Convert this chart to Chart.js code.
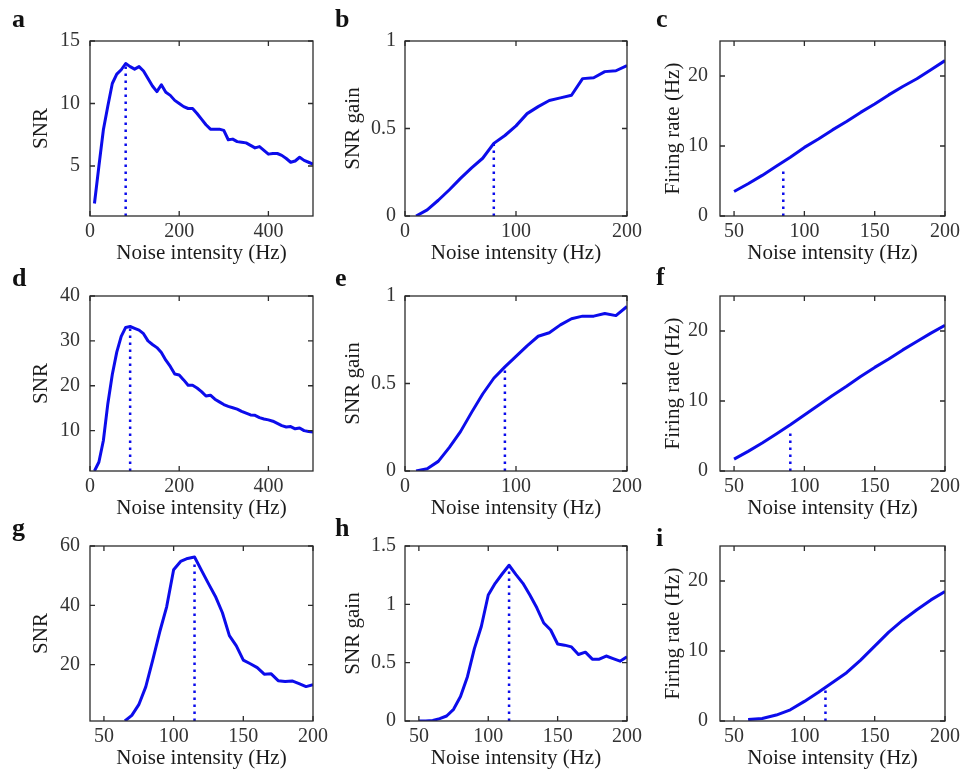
<!DOCTYPE html>
<html>
<head>
<meta charset="utf-8">
<title>SNR, SNR gain and firing rate vs noise intensity</title>
<script src="https://cdn.jsdelivr.net/npm/chart.js@4.4.1/dist/chart.umd.min.js"></script>
<style>
  html, body { margin: 0; padding: 0; background: #fff; overflow: hidden; }
  #page { position: relative; width: 960px; height: 769px; }
  canvas { position: absolute; }
  .tag { position: absolute; font: bold 26px 'Liberation Serif', 'Times New Roman', serif; line-height: 26px; color: #111; }
</style>
</head>
<body>
<div id="page"></div>
<script>
// noise intensity sample points (Hz)
const noise10to500 = [10, 20, 30, 40, 50, 60, 70, 80, 90, 100, 110, 120, 130, 140, 150, 160, 170, 180, 190, 200,
  210, 220, 230, 240, 250, 260, 270, 280, 290, 300, 310, 320, 330, 340, 350, 360, 370, 380, 390, 400,
  410, 420, 430, 440, 450, 460, 470, 480, 490, 500];
const noise10to200 = [10, 20, 30, 40, 50, 60, 70, 80, 90, 100, 110, 120, 130, 140, 150, 160, 170, 180, 190, 200];
const noise50to200 = [50, 60, 70, 80, 90, 100, 110, 120, 130, 140, 150, 160, 170, 180, 190, 200];
const noiseG = [65, 70, 75, 80, 85, 90, 95, 100, 105, 110, 115, 120, 125, 130, 135, 140, 145, 150, 155, 160,
  165, 170, 175, 180, 185, 190, 195, 200];
const noiseH = [50, 55, 60, 65, 70, 75, 80, 85, 90, 95, 100, 105, 110, 115, 120, 125, 130, 135, 140, 145, 150,
  155, 160, 165, 170, 175, 180, 185, 190, 195, 200];
const noiseI = [60, 70, 80, 90, 100, 110, 120, 130, 140, 150, 160, 170, 180, 190, 200];

// row 1
const snrA = [2.0, 5.0, 7.9, 9.8, 11.6, 12.35, 12.7, 13.2, 12.95, 12.75, 12.95, 12.6, 12.0, 11.4, 10.95, 11.5, 10.9, 10.65, 10.25, 10.0,
  9.75, 9.6, 9.6, 9.2, 8.75, 8.3, 7.95, 7.95, 7.95, 7.85, 7.1, 7.15, 6.95, 6.9, 6.85, 6.65, 6.45, 6.55, 6.25, 5.95,
  6.0, 6.0, 5.85, 5.6, 5.3, 5.4, 5.7, 5.45, 5.3, 5.15];
const gainB = [0.0, 0.035, 0.09, 0.15, 0.215, 0.275, 0.33, 0.415, 0.46, 0.515, 0.585, 0.625, 0.66, 0.675, 0.69, 0.785, 0.79, 0.825, 0.83, 0.86];
const rateC = [3.5, 4.6, 5.8, 7.1, 8.4, 9.8, 11.0, 12.3, 13.5, 14.8, 16.0, 17.3, 18.5, 19.6, 20.9, 22.2];

// row 2
const snrD = [1.0, 3.0, 7.8, 16.0, 22.5, 27.5, 31.0, 33.0, 33.2, 32.8, 32.4, 31.6, 30.0, 29.2, 28.5, 27.4, 25.7, 24.3, 22.6, 22.4,
  21.3, 20.1, 20.1, 19.5, 18.7, 17.7, 17.9, 17.0, 16.4, 15.8, 15.4, 15.1, 14.8, 14.3, 13.9, 13.5, 13.4, 12.9, 12.6, 12.4,
  12.1, 11.6, 11.1, 10.8, 10.9, 10.4, 10.6, 10.0, 9.8, 9.7];
const gainE = [0.0, 0.013, 0.055, 0.135, 0.225, 0.335, 0.44, 0.53, 0.595, 0.655, 0.715, 0.77, 0.79, 0.835, 0.87, 0.885, 0.885, 0.9, 0.888, 0.94];
const rateF = [1.7, 2.8, 4.0, 5.3, 6.6, 8.0, 9.4, 10.8, 12.1, 13.5, 14.8, 16.0, 17.3, 18.5, 19.7, 20.8];

// row 3
const snrG = [1.0, 2.9, 6.5, 12.5, 21.5, 31.0, 39.5, 52.0, 54.8, 55.8, 56.3, 51.8, 47.3, 43.0, 37.5, 29.8, 26.3, 21.5, 20.3, 19.0,
  16.8, 16.9, 14.6, 14.3, 14.5, 13.6, 12.6, 13.2];
const gainH = [0.0, 0.0, 0.005, 0.02, 0.043, 0.1, 0.21, 0.38, 0.62, 0.81, 1.08, 1.18, 1.26, 1.335, 1.255, 1.18, 1.08, 0.97, 0.84, 0.78,
  0.66, 0.65, 0.635, 0.57, 0.59, 0.53, 0.53, 0.557, 0.535, 0.513, 0.55];
const rateI = [0.2, 0.35, 0.85, 1.6, 2.8, 4.1, 5.5, 6.9, 8.7, 10.7, 12.7, 14.4, 15.9, 17.3, 18.5];

// optimal noise marker (dotted line) per panel a..i
const peakNoise = [80, 80, 85, 90, 90, 90, 115, 115, 115];
const peakLevel = [13.2, 0.425, 7.0, 32.8, 0.596, 5.9, 54.5, 1.32, 4.9];

// axis ticks
const xTicksWide = [0, 200, 400];
const xTicksShort = [0, 100, 200];
const xTicksRate = [50, 100, 150, 200];
const yTicksA = [5, 10, 15];
const yTicksD = [10, 20, 30, 40];
const yTicksG = [20, 40, 60];
const yTicksGain = [0, 0.5, 1];
const yTicksGainH = [0, 0.5, 1, 1.5];
const yTicksRate = [0, 10, 20];

const xLabel = 'Noise intensity (Hz)';
const tags = ['a', 'b', 'c', 'd', 'e', 'f', 'g', 'h', 'i'];

const panels = [
  { xs: noise10to500, ys: snrA,  x: [0, 500, xTicksWide],  y: [1, 15, yTicksA],      title: 'SNR' },
  { xs: noise10to200, ys: gainB, x: [0, 200, xTicksShort], y: [0, 1, yTicksGain],    title: 'SNR gain' },
  { xs: noise50to200, ys: rateC, x: [40, 200, xTicksRate], y: [0, 25, yTicksRate],   title: 'Firing rate (Hz)' },
  { xs: noise10to500, ys: snrD,  x: [0, 500, xTicksWide],  y: [1, 40, yTicksD],      title: 'SNR' },
  { xs: noise10to200, ys: gainE, x: [0, 200, xTicksShort], y: [0, 1, yTicksGain],    title: 'SNR gain' },
  { xs: noise50to200, ys: rateF, x: [40, 200, xTicksRate], y: [0, 25, yTicksRate],   title: 'Firing rate (Hz)' },
  { xs: noiseG,       ys: snrG,  x: [40, 200, xTicksRate], y: [1, 60, yTicksG],      title: 'SNR' },
  { xs: noiseH,       ys: gainH, x: [40, 200, xTicksRate], y: [0, 1.5, yTicksGainH], title: 'SNR gain' },
  { xs: noiseI,       ys: rateI, x: [40, 200, xTicksRate], y: [0, 25, yTicksRate],   title: 'Firing rate (Hz)' }
];

// layout of the plot boxes on the page
const boxLeft = [90, 405, 720];
const boxWidth = [223, 222, 225];
const boxTop = [41, 296, 546];
const boxHeight = 175;
const padTop = 30;
const yTitlePad = [28.4, 25.4, 30.4];
const yTickPad = [10, 9, 12];
const tagPos = [[12, 28], [335, 28], [656, 28], [12, 287], [335, 287], [656, 286], [12, 537], [335, 537], [656, 547]];

const BLUE = 'rgb(12, 12, 235)';
const serif = "'Liberation Serif', 'Times New Roman', serif";

// MATLAB-like closed box with inward ticks on all four sides
const boxTicks = {
  id: 'boxTicks',
  afterDatasetsDraw(chart) {
    const { ctx, chartArea: a, scales: { x, y } } = chart;
    ctx.save();
    ctx.strokeStyle = '#2b2b2b';
    ctx.lineWidth = 1.3;
    ctx.beginPath();
    x.ticks.forEach(t => {
      const px = x.getPixelForValue(t.value);
      ctx.moveTo(px, a.bottom); ctx.lineTo(px, a.bottom - 5);
      ctx.moveTo(px, a.top); ctx.lineTo(px, a.top + 5);
    });
    y.ticks.forEach(t => {
      const py = y.getPixelForValue(t.value);
      ctx.moveTo(a.left, py); ctx.lineTo(a.left + 5, py);
      ctx.moveTo(a.right, py); ctx.lineTo(a.right - 5, py);
    });
    ctx.stroke();
    ctx.strokeRect(a.left, a.top, a.right - a.left, a.bottom - a.top);
    ctx.restore();
  }
};

const page = document.getElementById('page');

panels.forEach((p, i) => {
  const col = i % 3, row = Math.floor(i / 3);
  const canvas = document.createElement('canvas');
  const w = boxWidth[col] + 110, h = boxHeight + padTop + 50;
  canvas.width = w;
  canvas.height = h;
  canvas.style.left = (boxLeft[col] - 90) + 'px';
  canvas.style.top = (boxTop[row] - padTop) + 'px';
  canvas.style.width = w + 'px';
  canvas.style.height = h + 'px';
  page.appendChild(canvas);

  const tag = document.createElement('div');
  tag.className = 'tag';
  tag.textContent = tags[i];
  tag.style.left = tagPos[i][0] + 'px';
  tag.style.top = (tagPos[i][1] - 22) + 'px';
  page.appendChild(tag);

  const [xMin, xMax, xTicks] = p.x;
  const [yMin, yMax, yTicks] = p.y;

  new Chart(canvas, {
    type: 'line',
    data: {
      datasets: [{
        data: p.xs.map((v, k) => ({ x: v, y: p.ys[k] })),
        borderColor: BLUE,
        borderWidth: 3,
        pointRadius: 0,
        tension: 0,
        borderJoinStyle: 'round'
      }, {
        data: [{ x: peakNoise[i], y: yMin }, { x: peakNoise[i], y: peakLevel[i] }],
        borderColor: BLUE,
        borderWidth: 2.5,
        borderDash: [2.5, 4.5],
        pointRadius: 0
      }]
    },
    options: {
      responsive: false,
      animation: false,
      layout: { padding: { left: 0, top: padTop, right: 20, bottom: 0 } },
      plugins: { legend: { display: false }, tooltip: { enabled: false } },
      scales: {
        x: {
          type: 'linear',
          min: xMin,
          max: xMax,
          afterBuildTicks: s => { s.ticks = xTicks.map(v => ({ value: v })); },
          afterFit: s => { s.height = 50; },
          grid: { display: false, drawTicks: false },
          border: { display: false },
          ticks: {
            padding: 4,
            maxRotation: 0,
            color: '#333',
            font: { family: serif, size: 20 },
            callback: v => String(v)
          },
          title: {
            display: true,
            text: xLabel,
            color: '#1a1a1a',
            font: { family: serif, size: 21 },
            padding: { top: 0, bottom: 0.4 }
          }
        },
        y: {
          type: 'linear',
          min: yMin,
          max: yMax,
          afterBuildTicks: s => { s.ticks = yTicks.map(v => ({ value: v })); },
          afterFit: s => { s.width = 90; },
          grid: { display: false, drawTicks: false },
          border: { display: false },
          ticks: {
            padding: yTickPad[col],
            color: '#333',
            font: { family: serif, size: 20 },
            callback: v => String(v)
          },
          title: {
            display: true,
            text: p.title,
            color: '#1a1a1a',
            font: { family: serif, size: 21 },
            padding: { top: yTitlePad[col], bottom: 0 }
          }
        }
      }
    },
    plugins: [boxTicks]
  });
});
</script>
</body>
</html>
